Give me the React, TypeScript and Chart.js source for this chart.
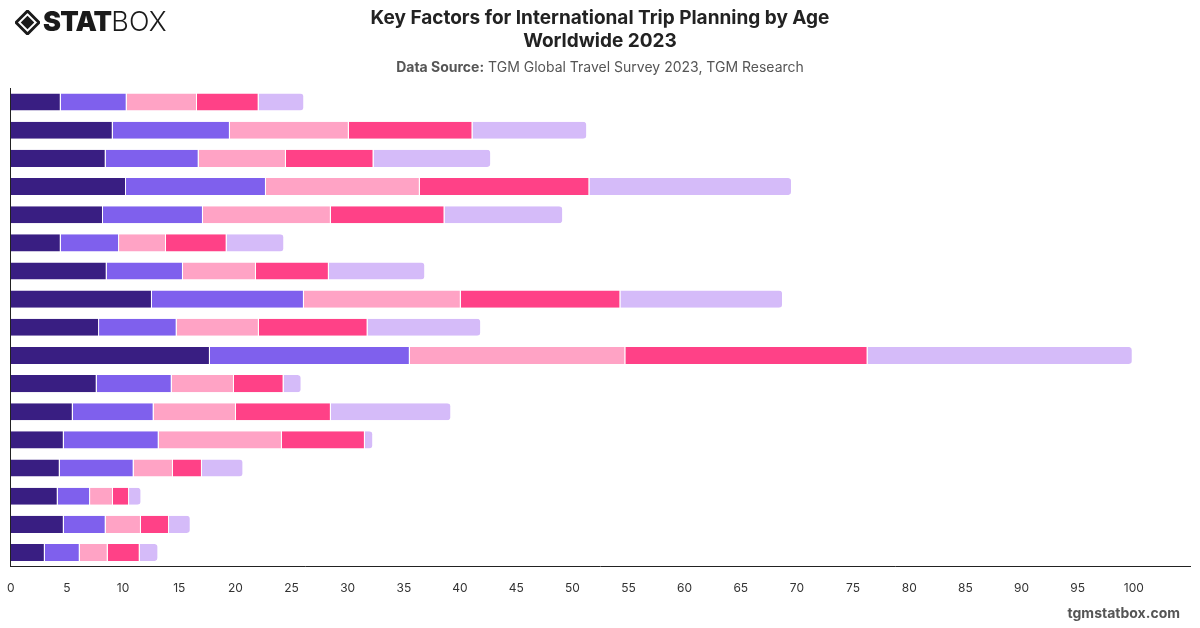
import React, { useEffect, useRef } from "react";
import { Chart, registerables } from "chart.js";

Chart.register(...registerables);

const categories = [
  "Factor 1", "Factor 2", "Factor 3", "Factor 4", "Factor 5", "Factor 6",
  "Factor 7", "Factor 8", "Factor 9", "Factor 10", "Factor 11", "Factor 12",
  "Factor 13", "Factor 14", "Factor 15", "Factor 16", "Factor 17",
];

const ageGroups = ["18-24", "25-34", "35-44", "45-54", "55+"];

const age1824 = [4.45, 9.08, 8.45, 10.26, 8.21, 4.45, 8.54, 12.57, 7.86, 17.73, 7.65, 5.52, 4.72, 4.36, 4.18, 4.72, 3.03];
const age2534 = [5.87, 10.43, 8.28, 12.46, 8.9, 5.19, 6.79, 13.53, 6.91, 17.8, 6.68, 7.2, 8.45, 6.58, 2.88, 3.73, 3.11];
const age3544 = [6.26, 10.59, 7.77, 13.7, 11.39, 4.18, 6.5, 13.97, 7.32, 19.19, 5.54, 7.33, 10.97, 3.5, 2.04, 3.14, 2.49];
const age4554 = [5.49, 11.01, 7.8, 15.1, 10.12, 5.4, 6.49, 14.21, 9.68, 21.57, 4.42, 8.45, 7.39, 2.58, 1.43, 2.5, 2.85];
const age55plus = [4.06, 10.21, 10.47, 18.04, 10.56, 5.13, 8.58, 14.48, 10.11, 23.61, 1.6, 10.72, 0.74, 3.69, 1.1, 1.93, 1.66];

const seriesValues = [age1824, age2534, age3544, age4554, age55plus];
const seriesColors = ["#391e82", "#7f60ed", "#ffa3c5", "#ff4187", "#d5bbf9"];

const xTickMax = 100;
const xAxisMax = 105;
const xStep = 5;

const FONT = "Inter, 'Noto Sans', sans-serif";

export default function App() {
  const canvasRef = useRef<HTMLCanvasElement | null>(null);

  useEffect(() => {
    if (!canvasRef.current) return;
    const last = seriesValues.length - 1;
    const chart = new Chart(canvasRef.current, {
      type: "bar",
      data: {
        labels: categories,
        datasets: seriesValues.map((vals, i) => ({
          label: ageGroups[i],
          data: vals,
          backgroundColor: seriesColors[i],
          borderColor: "#ffffff",
          borderWidth: { top: 0, bottom: 0, left: 0, right: 1 },
          borderSkipped: "start",
          borderRadius: i === last ? 4 : 0,
          categoryPercentage: 0.607,
          barPercentage: 1,
        })),
      },
      options: {
        indexAxis: "y",
        responsive: false,
        animation: false,
        devicePixelRatio: 1,
        layout: { padding: { top: 88, left: 10, right: 10, bottom: 17 } },
        plugins: {
          legend: { display: false },
          title: { display: false },
          tooltip: { enabled: false },
        },
        scales: {
          x: {
            stacked: true,
            min: 0,
            max: xAxisMax,
            grid: { display: false, drawTicks: false },
            border: { display: true, color: "#222222", width: 1 },
            afterBuildTicks: (axis: any) => {
              axis.ticks = axis.ticks.filter((t: any) => t.value <= xTickMax);
            },
            ticks: {
              stepSize: xStep,
              color: "#333333",
              padding: 15,
              font: { family: FONT, size: 12 },
            },
          },
          y: {
            stacked: true,
            grid: { display: false, drawTicks: false },
            border: { display: true, color: "#222222", width: 1 },
            ticks: { display: false, padding: 0 },
            afterFit: (s: any) => {
              s.width = 0;
            },
          },
        },
      },
    } as any);
    return () => chart.destroy();
  }, []);

  return (
    <div
      style={{
        position: "absolute",
        left: 0,
        top: 0,
        width: 1200,
        height: 628,
        background: "#ffffff",
        overflow: "hidden",
        fontFamily: FONT,
      }}
    >
      <canvas
        ref={canvasRef}
        width={1208}
        height={628}
        style={{ position: "absolute", left: -8, top: 0, width: 1208, height: 628 }}
      />
      <div style={{ position: "absolute", left: 15, top: 9, display: "flex", alignItems: "center", height: 26 }}>
        <svg width="25" height="25" viewBox="0 0 26 26" style={{ marginRight: 3 }}>
          <polygon points="13,1 25,13 13,25 1,13" fill="none" stroke="#1a1a1a" strokeWidth="3" />
          <polygon points="13,6 20,13 13,20 6,13" fill="#1a1a1a" />
        </svg>
        <span style={{ fontSize: 27, fontWeight: 900, color: "#1a1a1a", letterSpacing: -0.8, lineHeight: "26px" }}>STAT</span>
        <span style={{ fontSize: 27, fontWeight: 300, color: "#1a1a1a", lineHeight: "26px" }}>BOX</span>
      </div>
      <div
        style={{
          position: "absolute",
          left: 0,
          top: 6,
          width: 1200,
          textAlign: "center",
          fontSize: 19,
          fontWeight: 700,
          color: "#222222",
          lineHeight: "23px",
        }}
      >
        Key Factors for International Trip Planning by Age
        <br />
        Worldwide 2023
      </div>
      <div
        style={{
          position: "absolute",
          left: 0,
          top: 58,
          width: 1200,
          textAlign: "center",
          fontSize: 14,
          color: "#555555",
          lineHeight: "18px",
        }}
      >
        <b>Data Source:</b> TGM Global Travel Survey 2023, TGM Research
      </div>
      <div
        style={{
          position: "absolute",
          right: 20,
          top: 604,
          fontSize: 14,
          fontWeight: 700,
          color: "#555555",
          lineHeight: "18px",
        }}
      >
        tgmstatbox.com
      </div>
    </div>
  );
}
